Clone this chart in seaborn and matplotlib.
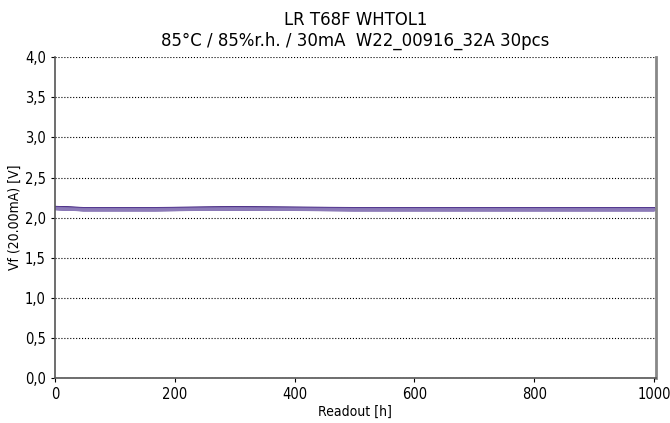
import pandas as pd
import matplotlib.pyplot as plt
import seaborn as sns

# Readout times [h] and mean Vf per readout
readouts = [0, 48, 168, 300, 500, 1000]
vf_mean = [2.120, 2.105, 2.105, 2.115, 2.105, 2.105]

# per-piece offsets from the mean (30 pcs), estimated
piece_offsets = [0.010, 0.008, 0.006, 0.005, 0.004, 0.003, 0.002, 0.002, 0.001, 0.001,
                 0.000, 0.000, 0.000, -0.001, -0.001, -0.002, -0.002, -0.003, -0.003, -0.004,
                 -0.004, -0.005, -0.005, -0.006, -0.006, -0.007, -0.008, -0.008, -0.009, -0.010]

rows = []
for i, off in enumerate(piece_offsets):
    for t, v in zip(readouts, vf_mean):
        rows.append({'pc': i + 1, 'Readout': t, 'Vf': v + off})
df = pd.DataFrame(rows)

sns.set_style('white')
plt.rcParams['font.family'] = ['DejaVu Sans']
plt.rcParams['font.stretch'] = 'condensed'
plt.rcParams['text.color'] = 'black'
plt.rcParams['axes.labelcolor'] = 'black'
plt.rcParams['xtick.color'] = 'black'
plt.rcParams['ytick.color'] = 'black'

fig, ax = plt.subplots(figsize=(6.7, 4.23), dpi=100)
fig.subplots_adjust(left=0.082, right=0.979, top=0.865, bottom=0.106)

pal = sns.blend_palette(['#4b2f86', '#5e4398', '#8c7bb8'], n_colors=len(piece_offsets))
sns.lineplot(data=df, x='Readout', y='Vf', hue='pc', palette=pal, legend=False,
             linewidth=2.0, ax=ax)

ax.set_xlim(0, 1003)
ax.set_ylim(0, 4.0)
ax.set_xticks([0, 200, 400, 600, 800, 1000])
yt = [0, 0.5, 1.0, 1.5, 2.0, 2.5, 3.0, 3.5, 4.0]
ax.set_yticks(yt)
ax.set_yticklabels([f'{v:.1f}'.replace('.', ',') for v in yt])
ax.yaxis.grid(True, linestyle=':', color='black', linewidth=0.8)
ax.tick_params(axis='both', labelsize=10.5, length=3, direction='out', left=True, bottom=True)

for s in ['left', 'bottom']:
    ax.spines[s].set_color('#555555')
    ax.spines[s].set_linewidth(1.2)
ax.spines['right'].set_color('#888888')
ax.spines['right'].set_linewidth(2)
ax.spines['top'].set_visible(False)

ax.set_xlabel('Readout [h]', fontsize=10, labelpad=2)
ax.set_ylabel('Vf (20.00mA) [V]', fontsize=10, labelpad=2)
ax.set_title('LR T68F WHTOL1\n85°C / 85%r.h. / 30mA  W22_00916_32A 30pcs', fontsize=13.2, pad=8)

plt.savefig('out.png', dpi=100)
